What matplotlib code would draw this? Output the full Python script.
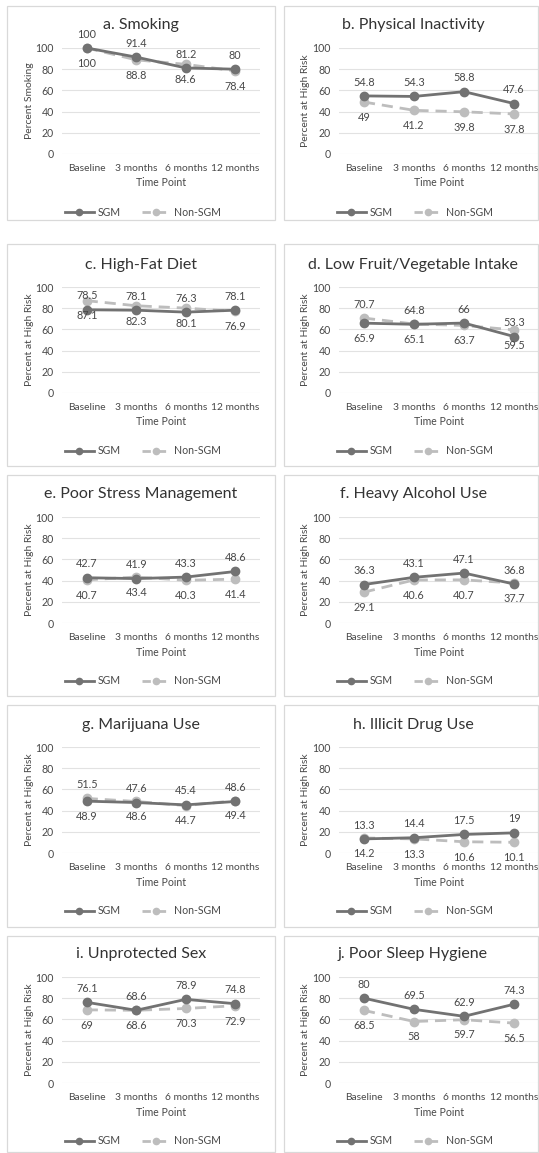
import matplotlib
matplotlib.use("Agg")
import matplotlib.pyplot as plt
from matplotlib.lines import Line2D
from matplotlib.patches import Rectangle

plt.rcParams['font.family'] = ['Lato', 'DejaVu Sans']

# ---- data ----
time_points = ["Baseline", "3 months", "6 months", "12 months"]

titles = [
    "a. Smoking", "b. Physical Inactivity",
    "c. High-Fat Diet", "d. Low Fruit/Vegetable Intake",
    "e. Poor Stress Management", "f. Heavy Alcohol Use",
    "g. Marijuana Use", "h. Illicit Drug Use",
    "i. Unprotected Sex", "j. Poor Sleep Hygiene",
]
ylabels = ["Percent Smoking"] + ["Percent at High Risk"] * 9

sgm_smoking = [100, 91.4, 81.2, 80]
non_smoking = [100, 88.8, 84.6, 78.4]
sgm_inactivity = [54.8, 54.3, 58.8, 47.6]
non_inactivity = [49, 41.2, 39.8, 37.8]
sgm_fat = [78.5, 78.1, 76.3, 78.1]
non_fat = [87.1, 82.3, 80.1, 76.9]
sgm_fruitveg = [65.9, 64.8, 66, 53.3]
non_fruitveg = [70.7, 65.1, 63.7, 59.5]
sgm_stress = [42.7, 41.9, 43.3, 48.6]
non_stress = [40.7, 43.4, 40.3, 41.4]
sgm_alcohol = [36.3, 43.1, 47.1, 36.8]
non_alcohol = [29.1, 40.6, 40.7, 37.7]
sgm_marijuana = [48.9, 47.6, 45.4, 48.6]
non_marijuana = [51.5, 48.6, 44.7, 49.4]
sgm_drugs = [13.3, 14.4, 17.5, 19]
non_drugs = [14.2, 13.3, 10.6, 10.1]
sgm_sex = [76.1, 68.6, 78.9, 74.8]
non_sex = [69, 68.6, 70.3, 72.9]
sgm_sleep = [80, 69.5, 62.9, 74.3]
non_sleep = [68.5, 58, 59.7, 56.5]

sgm_series = [sgm_smoking, sgm_inactivity, sgm_fat, sgm_fruitveg, sgm_stress,
              sgm_alcohol, sgm_marijuana, sgm_drugs, sgm_sex, sgm_sleep]
non_series = [non_smoking, non_inactivity, non_fat, non_fruitveg, non_stress,
              non_alcohol, non_marijuana, non_drugs, non_sex, non_sleep]

# points where the SGM label sits below and the Non-SGM label above
flipped_labels = {(3, 0), (6, 0)}

# ---- layout (pixels) ----
W, H = 539, 1153
DPI = 100
fig = plt.figure(figsize=(W / DPI, H / DPI), dpi=DPI)
fig.patch.set_facecolor("white")

col_box = [(7, 275), (284, 538)]
col_plot = [(62, 260), (339, 539)]
col_ylab = [30, 305]
col_center = [141, 413]
row_box = [(6, 220), (244, 466), (475, 696), (705, 927), (936, 1152)]
row_plot = [(48, 154), (287, 393), (517, 623), (747, 853), (977, 1083)]
row_title = [25, 265, 494, 725, 954]

TEXT = "#484848"
SGM_C = "#727272"
NON_C = "#bdbdbd"
GRID = "#e2e2e2"
BOX = "#d9d9d9"


def fx(x):
    return x / W


def fy(y):
    return 1 - y / H


for i in range(10):
    r, c = divmod(i, 2)
    bx0, bx1 = col_box[c]
    by0, by1 = row_box[r]
    fig.patches.append(Rectangle((fx(bx0), fy(by1)), fx(bx1 - bx0), (by1 - by0) / H,
                                 transform=fig.transFigure, fill=False,
                                 edgecolor=BOX, linewidth=0.9))

    px0, px1 = col_plot[c]
    py0, py1 = row_plot[r]
    ax = fig.add_axes([fx(px0), fy(py1), fx(px1 - px0), (py1 - py0) / H])
    ax.set_facecolor("none")
    for s in ax.spines.values():
        s.set_visible(False)
    ax.set_xlim(-0.5, 3.5)
    ax.set_ylim(0, 100)
    ax.set_yticks([0, 20, 40, 60, 80, 100])
    ax.set_xticks(range(4))
    ax.set_xticklabels(time_points)
    ax.tick_params(length=0, colors=TEXT)
    ax.tick_params(axis='y', pad=6, labelsize=7.6)
    ax.tick_params(axis='x', pad=7, labelsize=7.4)
    ax.grid(axis='y', color=GRID, linewidth=0.8)
    ax.set_axisbelow(True)

    xs = range(4)
    sgm = sgm_series[i]
    non = non_series[i]
    ax.plot(xs, non, color=NON_C, linewidth=2.0, dashes=(4, 2.5),
            marker='o', markersize=6, clip_on=False, zorder=3)
    ax.plot(xs, sgm, color=SGM_C, linewidth=2.0,
            marker='o', markersize=6, clip_on=False, zorder=4)

    for k in xs:
        flip = (i, k) in flipped_labels
        s_off = -11 if flip else 10
        n_off = 10 if flip else -11
        ax.annotate(f"{sgm[k]:g}", (k, sgm[k]), xytext=(0, s_off),
                    textcoords='offset points', ha='center', va='center',
                    fontsize=7.8, color=TEXT, zorder=5, annotation_clip=False)
        ax.annotate(f"{non[k]:g}", (k, non[k]), xytext=(0, n_off),
                    textcoords='offset points', ha='center', va='center',
                    fontsize=7.8, color=TEXT, zorder=5, annotation_clip=False)

    fig.text(fx(col_center[c]), fy(row_title[r]), titles[i], ha='center',
             va='center', fontsize=11.5, color="#333333")
    fig.text(fx(col_ylab[c]), fy((py0 + py1) / 2), ylabels[i], rotation=90,
             ha='center', va='center', fontsize=7.5, color=TEXT)
    fig.text(fx((px0 + px1) / 2), fy(py1 + 29), "Time Point",
             ha='center', va='center', fontsize=7.6, color=TEXT)

    handles = [
        Line2D([], [], color=SGM_C, linewidth=2.0, marker='o', markersize=4.5),
        Line2D([], [], color=NON_C, linewidth=2.0, dashes=(3, 2.5),
               marker='o', markersize=4.5),
    ]
    ax.legend(handles, ["SGM", "Non-SGM"], loc='center', ncol=2, frameon=False,
              bbox_to_anchor=(fx(col_center[c] + 2), fy(py1 + 58)),
              bbox_transform=fig.transFigure, fontsize=7.6,
              labelcolor=TEXT, handlelength=2.8, columnspacing=2.0,
              handletextpad=0.3)

fig.savefig("out.png", dpi=DPI, facecolor="white")
